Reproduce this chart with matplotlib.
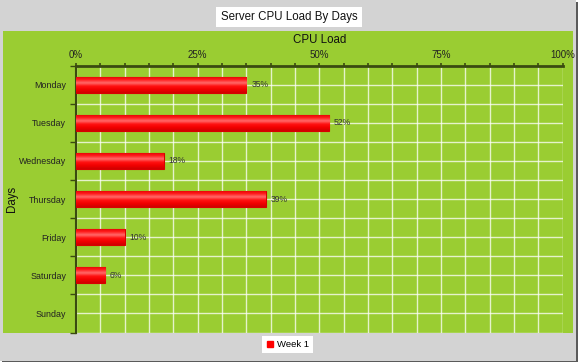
import numpy as np
import matplotlib.pyplot as plt
from matplotlib.patches import Rectangle
from matplotlib.colors import LinearSegmentedColormap
from matplotlib.ticker import MultipleLocator, FixedLocator

days = ['Monday', 'Tuesday', 'Wednesday', 'Thursday', 'Friday', 'Saturday', 'Sunday']
week1 = [35, 52, 18, 39, 10, 6, 0]
series_name = 'Week 1'

plt.rcParams['font.family'] = ['Liberation Sans', 'DejaVu Sans']

W, H = 580, 364
fig = plt.figure(figsize=(W / 100, H / 100), dpi=100)
fig.patch.set_facecolor('white')

def px_rect(x0, y0, x1, y1, **kw):
    # rectangle in pixel coords (origin top-left)
    r = Rectangle((x0 / W, 1 - y1 / H), (x1 - x0) / W, (y1 - y0) / H,
                  transform=fig.transFigure, zorder=-5, **kw)
    fig.patches.append(r)

green = '#9acd32'
px_rect(2, 2, 578, 362, facecolor='#5a5a5a', edgecolor='none')
px_rect(0, 0, 575.5, 360.5, facecolor='#d3d3d3', edgecolor='none')
px_rect(3, 31, 573, 332.5, facecolor=green, edgecolor='none')

ax = fig.add_axes([76 / W, 1 - 332.5 / H, (562.7 - 76) / W, (332.5 - 65.7) / H])
ax.set_zorder(1)
ax.set_facecolor(green)

y = np.arange(len(days))
bh = 0.42
bars = ax.barh(y, week1, height=bh, color='#ff0000', edgecolor='#d80000',
               linewidth=0.8, zorder=3)

# gradient fill to mimic the shaded bars
grad = LinearSegmentedColormap.from_list('bar', ['#e00000', '#ff1a1a', '#ff6a6a', '#ff1010', '#f00000', '#d00000'])
g = np.linspace(0, 1, 64).reshape(-1, 1)
for b in bars:
    if b.get_width() <= 0:
        b.set_visible(False)
        continue
    x0, y0 = b.get_x(), b.get_y()
    im = ax.imshow(g, cmap=grad, aspect='auto', zorder=3.5,
                   extent=[x0, x0 + b.get_width(), y0 + bh, y0], interpolation='bilinear')
    im.set_clip_path(b)

for yi, v in zip(y, week1):
    if v > 0:
        ax.text(v + 1.0, yi, f'{v}%', va='center', ha='left', fontsize=6.2, color='#333333', zorder=5)

ax.set_xlim(0, 100)
ax.set_ylim(len(days) - 0.5, -0.5)

ax.xaxis.tick_top()
ax.xaxis.set_label_position('top')
ax.xaxis.set_major_locator(MultipleLocator(25))
ax.xaxis.set_minor_locator(MultipleLocator(5))
ax.set_xticklabels([f'{int(t)}%' for t in ax.get_xticks()])
ax.tick_params(axis='x', which='both', length=2, width=1.2, color='#3a4a10',
               labelsize=7, labelcolor='#222222', pad=2)
ax.set_xlabel('CPU Load', fontsize=8.3, color='#111111', labelpad=5)

ax.set_yticks(y)
ax.set_yticklabels(days)
ax.yaxis.set_minor_locator(FixedLocator(np.arange(-0.5, len(days), 1.0)))
ax.tick_params(axis='y', which='major', length=0, labelsize=6.4, labelcolor='#222222', pad=7)
ax.tick_params(axis='y', which='minor', length=4, width=1.0, color='#3a4a10')
ax.set_ylabel('Days', fontsize=8.3, color='#111111')
ax.yaxis.set_label_coords((18 - 76) / (562.7 - 76), 0.5)

ax.grid(True, which='both', color='white', alpha=0.75, linewidth=1.0, zorder=1)
ax.set_axisbelow(True)

for s in ['right', 'bottom']:
    ax.spines[s].set_visible(False)
ax.spines['top'].set_color('#3a4a10')
ax.spines['top'].set_linewidth(2)
ax.spines['left'].set_color('#3a4a10')
ax.spines['left'].set_linewidth(1.5)

fig.text(289 / W, 1 - 17 / H, 'Server CPU Load By Days', ha='center', va='center',
         fontsize=8.3, color='#111111',
         bbox=dict(facecolor='white', edgecolor='none', boxstyle='square,pad=0.38'))

h = plt.Line2D([], [], marker='s', color='none', markerfacecolor='#ff0000',
               markeredgecolor='#ff0000', markersize=5)
leg = fig.legend([h], [series_name], loc='center', bbox_to_anchor=(287.5 / W, 1 - 344.5 / H),
                 fontsize=6.8, frameon=True, fancybox=False, handlelength=0.8,
                 handletextpad=0.4, borderpad=0.45, borderaxespad=0)
leg.get_frame().set_facecolor('white')
leg.get_frame().set_edgecolor('none')
leg.get_frame().set_alpha(1)

fig.savefig('out.png', dpi=100)
